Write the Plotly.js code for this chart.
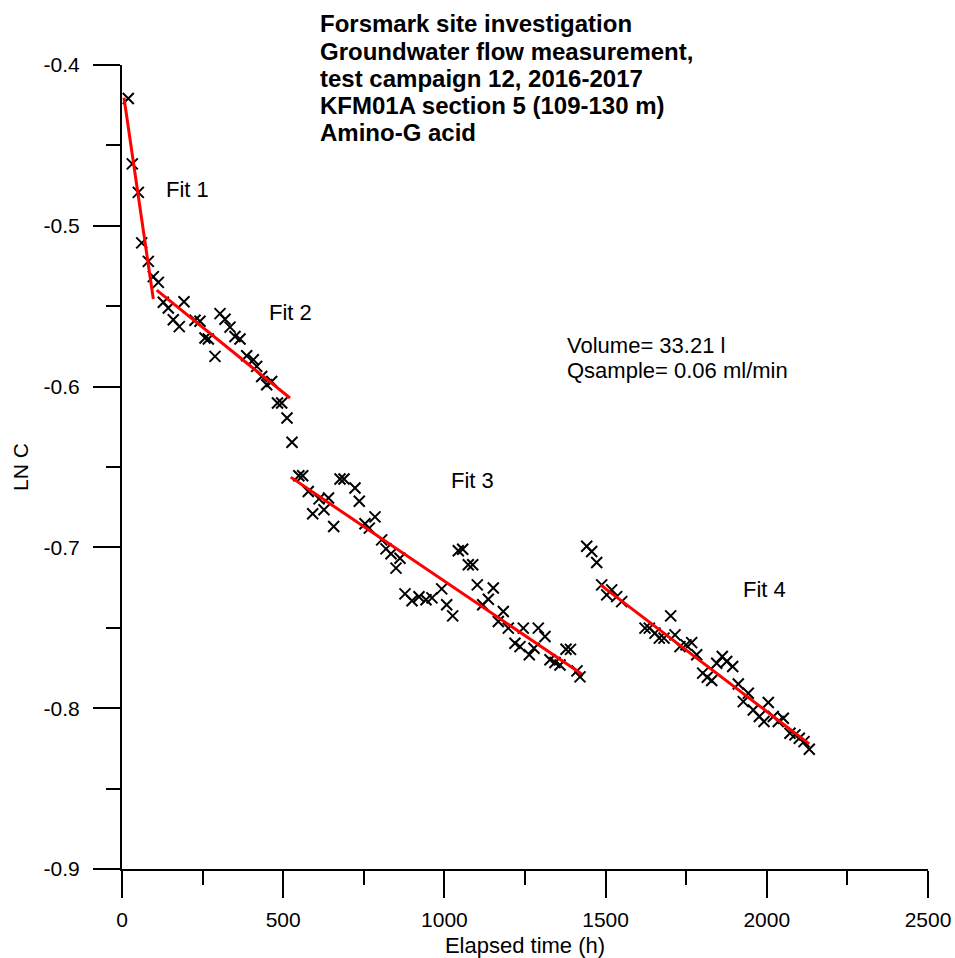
<!DOCTYPE html>
<html>
<head>
<meta charset="utf-8">
<script src="https://cdn.plot.ly/plotly-3.0.1.min.js"></script>
<style>html,body{margin:0;padding:0;background:#fff}</style>
</head>
<body>
<div id="chart" style="width:955px;height:958px"></div>
<script>
// Measured tracer concentration (ln C) versus elapsed time (h)
const timeH = [
  19.5, 31.9, 50.6, 61.1, 81.6, 97.1, 112.6, 128.1, 143.6, 159.1,
  177.7, 192.3, 226.4, 241.9, 257.4, 267.7, 288.5, 304.0, 319.5, 335.0,
  350.5, 366.0, 386.8, 407.3, 417.8, 433.3, 448.8, 464.3, 482.3, 495.3,
  511.8, 527.3, 548.4, 560.5, 577.8, 591.5, 611.0, 626.5, 640.5, 656.6,
  676.2, 688.6, 722.7, 736.0, 753.7, 767.1, 784.7, 805.5, 818.8, 834.4,
  849.9, 862.3, 877.8, 899.5, 921.2, 942.9, 961.5, 991.6, 1007.1, 1025.7,
  1043.1, 1056.7, 1074.1, 1087.8, 1102.0, 1118.8, 1136.2, 1151.7, 1167.2, 1182.7,
  1198.2, 1218.9, 1234.5, 1244.7, 1263.3, 1277.9, 1291.2, 1312.0, 1327.5, 1343.0,
  1358.5, 1377.2, 1391.1, 1411.3, 1420.6,
  1441.4, 1456.9, 1472.4, 1487.9, 1503.4, 1518.9, 1534.4, 1549.9, 1622.2, 1635.5,
  1653.2, 1666.5, 1681.1, 1701.9, 1715.2, 1730.7, 1749.4, 1767.0, 1782.5, 1801.2,
  1815.4, 1829.1, 1844.6, 1861.9, 1875.6, 1894.2, 1911.6, 1927.1, 1942.6, 1958.1,
  1976.7, 1991.3, 2004.6, 2020.1, 2035.6, 2051.2, 2071.9, 2087.4, 2100.8, 2115.4,
  2131.8
];
const lnC = [
  -0.4208, -0.4615, -0.4792, -0.5106, -0.5221, -0.5316, -0.5352, -0.5475, -0.5511, -0.5584,
  -0.5627, -0.5472, -0.5587, -0.5594, -0.5698, -0.5704, -0.5812, -0.5546, -0.5581, -0.5630,
  -0.5688, -0.5704, -0.5808, -0.5833, -0.5874, -0.5937, -0.5988, -0.5968, -0.6102, -0.6102,
  -0.6195, -0.6346, -0.6554, -0.6554, -0.6652, -0.6791, -0.6698, -0.6766, -0.6693, -0.6870,
  -0.6575, -0.6575, -0.6631, -0.6713, -0.6853, -0.6880, -0.6810, -0.6953, -0.7009, -0.7040,
  -0.7129, -0.7067, -0.7289, -0.7332, -0.7307, -0.7326, -0.7314, -0.7258, -0.7357, -0.7426,
  -0.7021, -0.7011, -0.7108, -0.7108, -0.7233, -0.7357, -0.7322, -0.7253, -0.7461, -0.7399,
  -0.7502, -0.7596, -0.7617, -0.7502, -0.7668, -0.7627, -0.7502, -0.7554, -0.7699, -0.7716,
  -0.7731, -0.7633, -0.7634, -0.7768, -0.7805,
  -0.6993, -0.7026, -0.7094, -0.7233, -0.7295, -0.7264, -0.7306, -0.7337, -0.7502, -0.7502,
  -0.7533, -0.7564, -0.7564, -0.7426, -0.7544, -0.7617, -0.7606, -0.7592, -0.7668, -0.7782,
  -0.7807, -0.7828, -0.7720, -0.7679, -0.7710, -0.7741, -0.7849, -0.7959, -0.7907, -0.8011,
  -0.8052, -0.8083, -0.7965, -0.8052, -0.8083, -0.8062, -0.8156, -0.8166, -0.8187, -0.8208,
  -0.8255
];

// Linear fits (start and end points of each fitted segment)
const fit1Time = [6.2, 97.1],     fit1LnC = [-0.4204, -0.5455];
const fit2Time = [107.6, 521.1],  fit2LnC = [-0.5400, -0.6071];
const fit3Time = [523.3, 1425.9], fit3LnC = [-0.6563, -0.7787];
const fit4Time = [1484.2, 2131.8], fit4LnC = [-0.7233, -0.8222];

// Axis ticks
const xTickVals = [0, 500, 1000, 1500, 2000, 2500];
const xTickText = ['0', '500', '1000', '1500', '2000', '2500'];
const yTickVals = [-0.9, -0.8, -0.7, -0.6, -0.5, -0.4];
const yTickText = ['-0.9', '-0.8', '-0.7', '-0.6', '-0.5', '-0.4'];

// Text blocks
const titleLines = [
  'Forsmark site investigation',
  'Groundwater flow measurement,',
  'test campaign 12, 2016-2017',
  'KFM01A section 5 (109-130 m)',
  'Amino-G acid'
];
const infoLines = ['Volume= 33.21 l', 'Qsample= 0.06 ml/min'];
const fitNames = ['Fit 1', 'Fit 2', 'Fit 3', 'Fit 4'];

const FONT = 'Liberation Sans, Arial, Helvetica, sans-serif';

const fitLine = (x, y) => ({
  x: x, y: y, type: 'scatter', mode: 'lines',
  line: {color: '#ff0000', width: 3}, hoverinfo: 'skip'
});

const traces = [
  {
    x: timeH, y: lnC, type: 'scatter', mode: 'markers',
    marker: {symbol: 'x-thin-open', size: 11, color: '#000', line: {color: '#000', width: 2}},
    cliponaxis: false
  },
  fitLine(fit1Time, fit1LnC),
  fitLine(fit2Time, fit2LnC),
  fitLine(fit3Time, fit3LnC),
  fitLine(fit4Time, fit4LnC)
];

// Placement of the labels
const titleY = [1.0510, 1.01716, 0.98333, 0.9495, 0.91567];
const infoY = [0.65174, 0.62002];
const fitPos = [[201.6, -0.4772], [522, -0.5539], [1085.6, -0.6584], [1991.3, -0.7264]];

const annotations = [];
titleLines.forEach((t, i) => annotations.push({
  xref: 'paper', yref: 'paper', x: 0.2432, y: titleY[i],
  xanchor: 'left', yanchor: 'middle', align: 'left', showarrow: false,
  text: '<b>' + t + '</b>', font: {family: FONT, size: 24, color: '#000'}
}));
infoLines.forEach((t, i) => annotations.push({
  xref: 'paper', yref: 'paper', x: 0.5496, y: infoY[i],
  xanchor: 'left', yanchor: 'middle', align: 'left', showarrow: false,
  text: t, font: {family: FONT, size: 22, color: '#000'}
}));
fitNames.forEach((t, i) => annotations.push({
  xref: 'x', yref: 'y', x: fitPos[i][0], y: fitPos[i][1],
  xanchor: 'center', yanchor: 'middle', showarrow: false,
  text: t, font: {family: FONT, size: 22, color: '#000'}
}));

const layout = {
  width: 955, height: 958,
  margin: {l: 122, r: 27, t: 65, b: 89},
  paper_bgcolor: '#fff', plot_bgcolor: '#fff',
  showlegend: false,
  font: {family: FONT, color: '#000'},
  xaxis: {
    range: [0, 2500], showgrid: false, zeroline: false,
    showline: true, linecolor: '#000', linewidth: 2,
    ticks: 'outside', ticklen: 27, tickwidth: 2, tickcolor: '#000',
    tickmode: 'array', tickvals: xTickVals, ticktext: xTickText,
    tickfont: {family: FONT, size: 21, color: '#000'},
    ticklabelstandoff: 4,
    minor: {tickmode: 'linear', tick0: 0, dtick: 250, ticks: 'outside', ticklen: 14, tickwidth: 2, tickcolor: '#000', showgrid: false},
    title: {text: 'Elapsed time (h)', font: {family: FONT, size: 22, color: '#000'}, standoff: 8}
  },
  yaxis: {
    range: [-0.9, -0.4], showgrid: false, zeroline: false,
    showline: true, linecolor: '#000', linewidth: 2,
    ticks: 'outside', ticklen: 27, tickwidth: 2, tickcolor: '#000',
    tickmode: 'array', tickvals: yTickVals, ticktext: yTickText,
    tickfont: {family: FONT, size: 21, color: '#000'},
    ticklabelstandoff: 9,
    minor: {tickmode: 'linear', tick0: -0.9, dtick: 0.05, ticks: 'outside', ticklen: 14, tickwidth: 2, tickcolor: '#000', showgrid: false},
    title: {text: 'LN C', font: {family: FONT, size: 21, color: '#000'}, standoff: 9}
  },
  annotations: annotations
};

Plotly.newPlot('chart', traces, layout, {displayModeBar: false, staticPlot: true});
</script>
</body>
</html>
